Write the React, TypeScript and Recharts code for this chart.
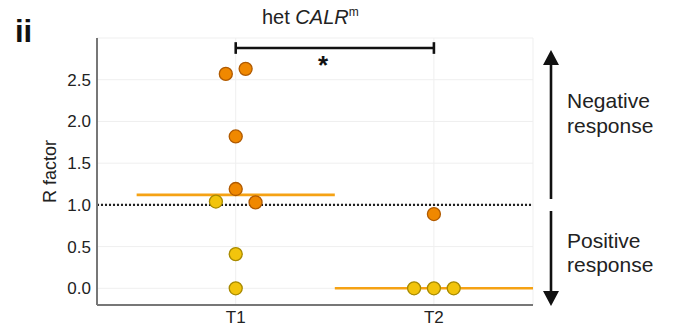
import React from 'react';
import {
  ScatterChart,
  Scatter,
  XAxis,
  YAxis,
  CartesianGrid,
  ReferenceLine,
} from 'recharts';

// ---- data ----
const categories = ['T1', 'T2'];
const categoryPos = [1, 2];
const yTicks = [0, 0.5, 1.0, 1.5, 2.0, 2.5];

// orange (higher response) points: category index, value, jitter
const orangeCat = [0, 0, 0, 0, 0, 1];
const orangeVal = [2.57, 2.63, 1.82, 1.19, 1.03, 0.89];
const orangeJit = [-0.05, 0.05, 0, 0, 0.1, 0];

// yellow points
const yellowCat = [0, 0, 0, 1, 1, 1];
const yellowVal = [1.04, 0.41, 0.0, 0.0, 0.0, 0.0];
const yellowJit = [-0.1, 0, 0, -0.1, 0, 0.1];

const medians = [1.12, 0.0];
const threshold = 1.0;

const orangeData = orangeVal.map((v, i) => ({ x: categoryPos[orangeCat[i]] + orangeJit[i], y: v }));
const yellowData = yellowVal.map((v, i) => ({ x: categoryPos[yellowCat[i]] + yellowJit[i], y: v }));

const FONT = '"Liberation Sans", Arial, sans-serif';

const Dot = (fill: string, stroke: string) => (props: any) => {
  const { cx, cy } = props;
  if (cx == null || cy == null) return null;
  return <circle cx={cx} cy={cy} r={6.5} fill={fill} stroke={stroke} strokeWidth={1.3} />;
};

export default function App() {
  return (
    <div style={{ position: 'absolute', left: 0, top: 0, width: 680, height: 331, background: '#fff' }}>
      <ScatterChart
        width={680}
        height={331}
        margin={{ top: 38, right: 147, bottom: 0, left: 0 }}
      >
        <CartesianGrid stroke="#efefef" strokeWidth={1} />
        <XAxis
          type="number"
          dataKey="x"
          domain={[0.3, 2.5]}
          ticks={categoryPos}
          tickFormatter={(v: number) => categories[categoryPos.indexOf(v)] ?? ''}
          height={26}
          axisLine={{ stroke: '#777', strokeWidth: 2 }}
          tickLine={false}
          tickSize={0}
          tick={{ fill: '#222', fontSize: 17, fontFamily: FONT }}
          tickMargin={6}
          allowDataOverflow
        />
        <YAxis
          type="number"
          dataKey="y"
          domain={[-0.2, 3.0]}
          ticks={yTicks}
          tickFormatter={(v: number) => v.toFixed(1)}
          width={97}
          axisLine={{ stroke: '#777', strokeWidth: 2 }}
          tickLine={false}
          tickSize={0}
          tick={{ fill: '#222', fontSize: 17, fontFamily: FONT }}
          tickMargin={6}
          allowDataOverflow
          label={{
            value: 'R factor',
            angle: -90,
            position: 'insideLeft',
            offset: 50,
            style: { fill: '#222', fontSize: 18, fontFamily: FONT, textAnchor: 'middle' },
          }}
        />
        <ReferenceLine y={threshold} stroke="#222" strokeWidth={2.2} strokeDasharray="2 2" />
        {medians.map((m, i) => (
          <ReferenceLine
            key={'med' + i}
            segment={[
              { x: categoryPos[i] - 0.5, y: m },
              { x: categoryPos[i] + 0.5, y: m },
            ]}
            stroke="#F5A214"
            strokeWidth={2.6}
            ifOverflow="visible"
          />
        ))}
        {/* significance bracket */}
        <ReferenceLine
          segment={[{ x: categoryPos[0], y: 2.88 }, { x: categoryPos[1], y: 2.88 }]}
          stroke="#111"
          strokeWidth={2.6}
          ifOverflow="visible"
        />
        <ReferenceLine
          segment={[{ x: categoryPos[0], y: 2.95 }, { x: categoryPos[0], y: 2.81 }]}
          stroke="#111"
          strokeWidth={2.6}
          ifOverflow="visible"
        />
        <ReferenceLine
          segment={[{ x: categoryPos[1], y: 2.95 }, { x: categoryPos[1], y: 2.81 }]}
          stroke="#111"
          strokeWidth={2.6}
          ifOverflow="visible"
        />
        <Scatter data={orangeData} shape={Dot('#F08800', '#B05A00')} isAnimationActive={false} />
        <Scatter data={yellowData} shape={Dot('#F2C40C', '#A88A00')} isAnimationActive={false} />
      </ScatterChart>
      <svg
        width={680}
        height={331}
        style={{ position: 'absolute', left: 0, top: 0, pointerEvents: 'none' }}
        fontFamily={FONT}
      >
        <text x={15} y={42} fontSize={31} fontWeight="bold" fill="#111">ii</text>
        <text x={262} y={24} fontSize={20} fill="#222">
          het <tspan fontStyle="italic">CALR</tspan>
          <tspan fontSize={12} dy={-8}>m</tspan>
        </text>
        <text x={323} y={74} fontSize={26} fontWeight="bold" fill="#111" textAnchor="middle">*</text>
        {/* up arrow */}
        <line x1={551} y1={199} x2={551} y2={62} stroke="#111" strokeWidth={2.6} />
        <polygon points="551,50 543,65 559,65" fill="#111" />
        {/* down arrow */}
        <line x1={551} y1={211} x2={551} y2={294} stroke="#111" strokeWidth={2.6} />
        <polygon points="551,306 543,291 559,291" fill="#111" />
        <text x={567} y={108} fontSize={21} fill="#222">Negative</text>
        <text x={567} y={133} fontSize={21} fill="#222">response</text>
        <text x={567} y={248} fontSize={21} fill="#222">Positive</text>
        <text x={567} y={272} fontSize={21} fill="#222">response</text>
      </svg>
    </div>
  );
}
